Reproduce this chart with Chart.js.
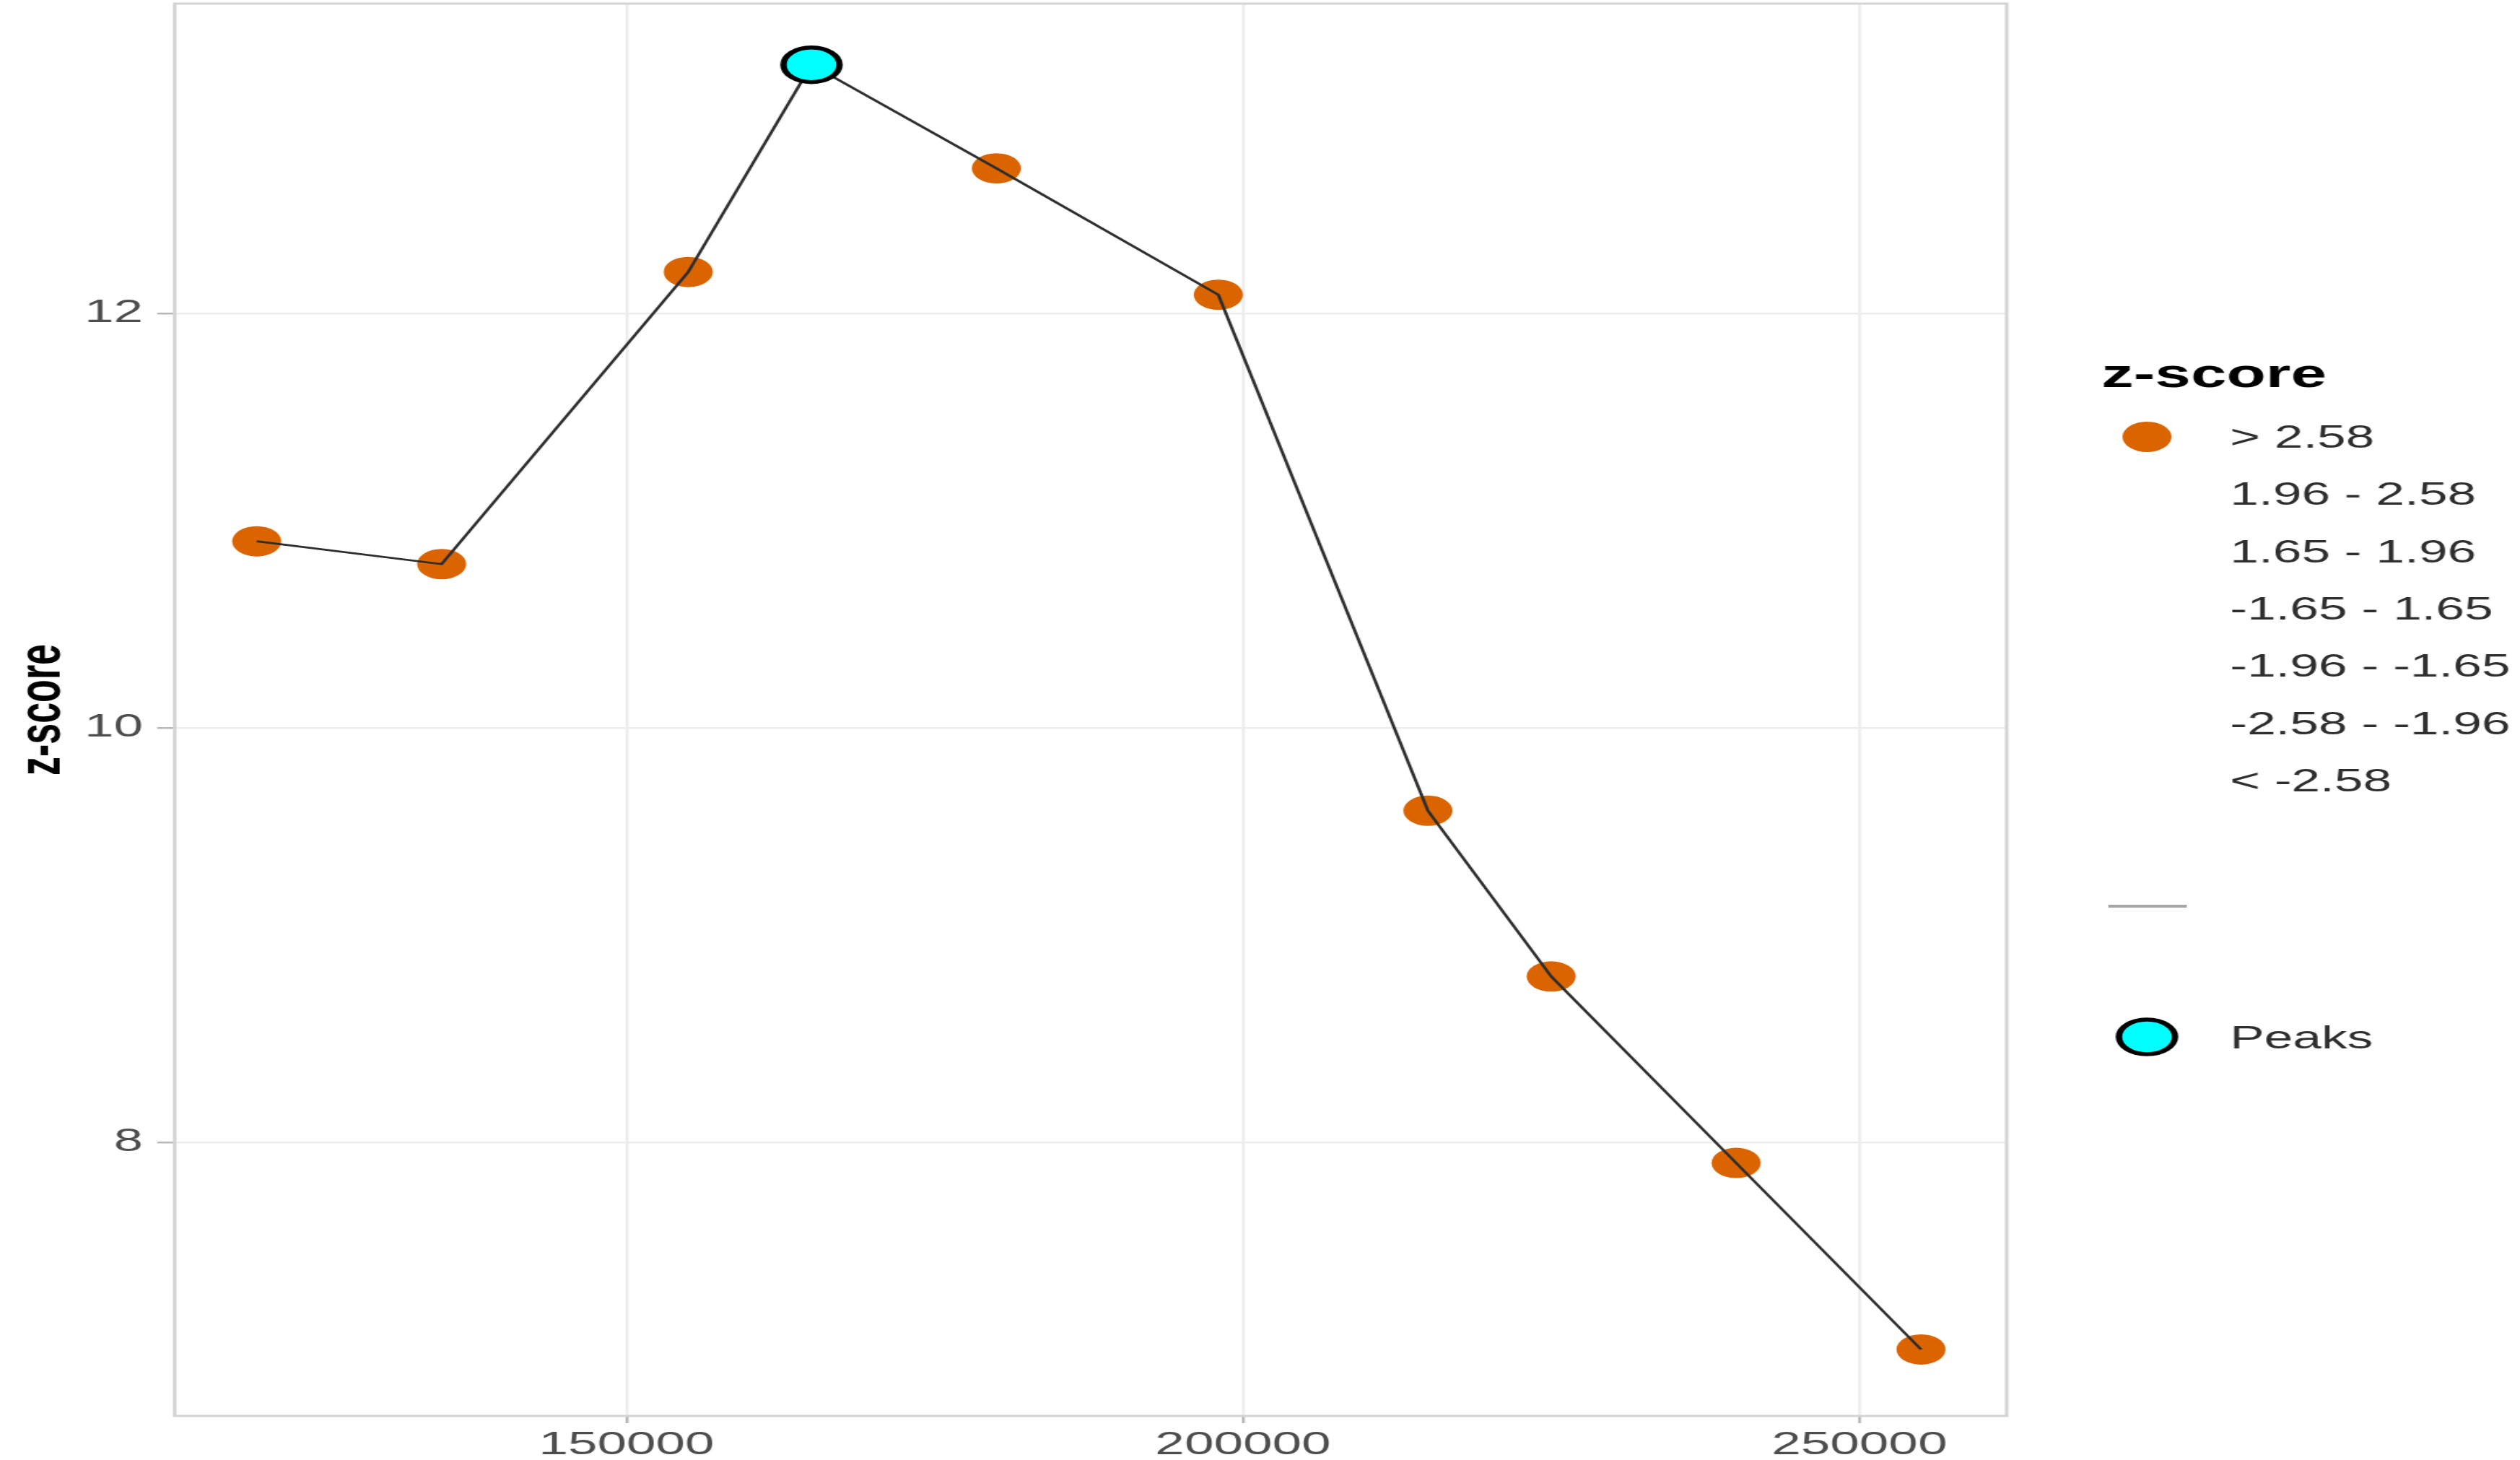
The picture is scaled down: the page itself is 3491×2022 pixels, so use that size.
<!DOCTYPE html>
<html>
<head>
<meta charset="utf-8">
<script src="https://cdn.jsdelivr.net/npm/chart.js@4/dist/chart.umd.min.js"></script>
<style>
  html, body { margin: 0; padding: 0; background: #fff; overflow: hidden; }
  /* the reference image is stretched sideways, so draw narrow and widen it */
  #stretch { width: 2155px; height: 2022px; transform: scaleX(1.61995); transform-origin: 0 0; }
</style>
</head>
<body>
<div id="stretch"><canvas id="zChart" width="2155" height="2022"></canvas></div>
<script>
const positions = [120000, 135000, 155000, 165000, 180000, 198000, 215000, 225000, 240000, 255000];
const zScores = [10.90, 10.79, 12.20, 13.20, 12.70, 12.09, 9.60, 8.80, 7.90, 7.00];
const peakIndex = 3;

const xTicks = [150000, 200000, 250000];
const yTicks = [8, 10, 12];

const zBins = ["> 2.58", "1.96 - 2.58", "1.65 - 1.96", "-1.65 - 1.65", "-1.96 - -1.65", "-2.58 - -1.96", "< -2.58"];
const peakLabel = "Peaks";
const axisTitle = "z-score";

const FONT = "'Liberation Sans', Arial, sans-serif";
const ORANGE = "#D96400";
const CYAN = "#00FFFF";
const LINE = "#2d2d2d";
const GRID = "#ededed";
const TICK = "#b8b8b8";
const BORDER = "#d4d4d4";
const INK_TICK = "#4d4d4d";
const INK_LEGEND = "#2e2e2e";

const points = positions.map((x, i) => ({ x: x, y: zScores[i] }));

const panelBorder = {
    id: "panelBorder",
    beforeDatasetsDraw(chart) {
        const { ctx, chartArea: a } = chart;
        ctx.save();
        ctx.strokeStyle = BORDER;
        ctx.lineWidth = 3;
        ctx.strokeRect(a.left, a.top, a.right - a.left, a.bottom - a.top);
        ctx.restore();
    },
};

function dot(ctx, x, y, r, fill, stroke, width) {
    ctx.beginPath();
    ctx.arc(x, y, r, 0, Math.PI * 2);
    ctx.fillStyle = fill;
    ctx.fill();
    if (stroke) {
        ctx.lineWidth = width;
        ctx.strokeStyle = stroke;
        ctx.stroke();
    }
}

// ggplot-style legend: colour bins, an unnamed line key, then the peaks key
const sideLegend = {
    id: "sideLegend",
    afterDraw(chart) {
        const ctx = chart.ctx;
        const keyX = 1836, textX = 1907, top = 605, step = 79.3;
        ctx.save();
        ctx.textBaseline = "middle";
        ctx.textAlign = "left";
        ctx.fillStyle = "#000";
        ctx.font = "bold 55px " + FONT;
        ctx.fillText(axisTitle, 1797, 521);

        dot(ctx, keyX, top, 21, ORANGE);
        ctx.font = "44px " + FONT;
        ctx.fillStyle = INK_LEGEND;
        zBins.forEach((label, i) => ctx.fillText(label, textX, top + i * step + 3));

        ctx.beginPath();
        ctx.moveTo(1803, 1255);
        ctx.lineTo(1870, 1255);
        ctx.strokeStyle = "#a6a6a6";
        ctx.lineWidth = 4;
        ctx.stroke();

        dot(ctx, keyX, 1436, 24, CYAN, "#000", 5.5);
        ctx.fillStyle = INK_LEGEND;
        ctx.fillText(peakLabel, textX, 1440);
        ctx.restore();
    },
};

new Chart(document.getElementById("zChart"), {
    type: "scatter",
    data: {
        datasets: [
            {
                label: "line",
                data: points,
                showLine: true,
                borderColor: LINE,
                borderWidth: 2.8,
                pointRadius: 0,
                order: 2,
            },
            {
                label: axisTitle,
                data: points,
                backgroundColor: ORANGE,
                borderWidth: 0,
                pointRadius: 21,
                order: 3,
            },
            {
                label: peakLabel,
                data: [points[peakIndex]],
                backgroundColor: CYAN,
                borderColor: "#000",
                borderWidth: 5.5,
                pointRadius: 24,
                order: 1,
            },
        ],
    },
    options: {
        responsive: false,
        animation: false,
        events: [],
        layout: { autoPadding: false, padding: { top: 5, right: 439, bottom: 0, left: 0 } },
        plugins: {
            legend: { display: false },
            tooltip: { enabled: false },
        },
        scales: {
            x: {
                type: "linear",
                min: 113349,
                max: 261944,
                afterBuildTicks: (scale) => { scale.ticks = xTicks.map((v) => ({ value: v })); },
                afterFit: (scale) => {
                    scale.height = 61;
                    scale.paddingLeft = 0;
                    scale.paddingRight = 0;
                },
                border: { display: false },
                grid: { color: GRID, lineWidth: 2.5, tickColor: TICK, tickWidth: 2.5, tickLength: 10 },
                ticks: {
                    callback: (v) => String(v),
                    color: INK_TICK,
                    font: { family: FONT, size: 45 },
                    padding: 4,
                    maxRotation: 0,
                    autoSkip: false,
                },
            },
            y: {
                type: "linear",
                min: 6.679,
                max: 13.495,
                afterBuildTicks: (scale) => { scale.ticks = yTicks.map((v) => ({ value: v })); },
                afterFit: (scale) => {
                    scale.width = 149.4;
                    scale.paddingTop = 0;
                    scale.paddingBottom = 0;
                },
                border: { display: false },
                grid: { color: GRID, lineWidth: 2.5, tickColor: TICK, tickWidth: 2.5, tickLength: 15 },
                ticks: {
                    callback: (v) => String(v),
                    color: INK_TICK,
                    font: { family: FONT, size: 45 },
                    padding: 12,
                },
                title: {
                    display: true,
                    text: axisTitle,
                    color: "#000",
                    font: { family: FONT, size: 52, weight: "bold" },
                    padding: { top: 5, bottom: 0 },
                },
            },
        },
    },
    plugins: [panelBorder, sideLegend],
});
</script>
</body>
</html>
